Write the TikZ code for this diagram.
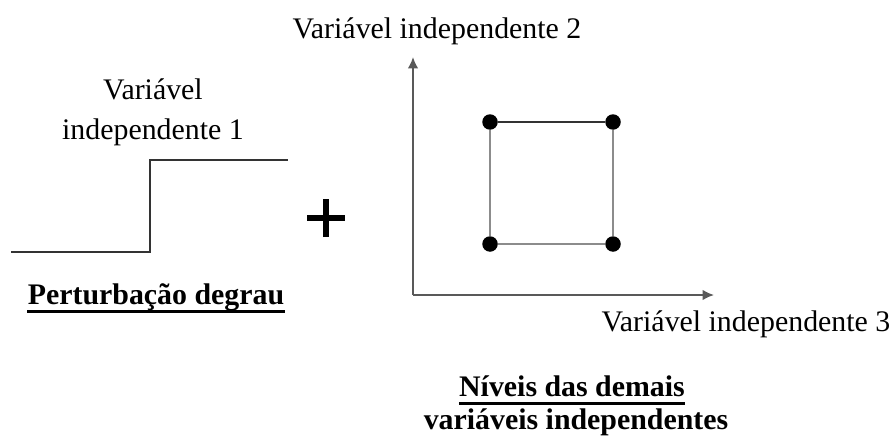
\documentclass[tikz,border=0pt]{standalone}
\usepackage{fontspec}
\setmainfont{Liberation Serif}
\usetikzlibrary{arrows.meta}

\begin{document}
\begin{tikzpicture}[x=0.02cm, y=-0.02cm,
    rotulo/.style={inner sep=0pt, align=center, font=\fontsize{17}{23}\selectfont},
    titulo/.style={inner sep=0pt, font=\fontsize{17}{23}\selectfont\bfseries},
    degrau/.style={line width=1.2pt, black!80},
    eixo/.style={line width=1pt, black!65, -{Latex[length=6.5pt, width=6pt]}},
    ponto/.style={circle, fill=black, inner sep=0pt, minimum size=0.31cm},
    lado/.style={line width=1pt, black!45}]
    \useasboundingbox (0,0) rectangle (895,436);

    % Perturbação degrau (variável 1)
    \coordinate (D0) at (11,252);
    \coordinate (D1) at (150,252);
    \coordinate (D2) at (150,160);
    \coordinate (D3) at (288,160);
    \draw[degrau] (D0) -- (D1) -- (D2) -- (D3);
    \node[rotulo] (var1) at (153,112) {Variável\\independente 1};
    \node[titulo] (pert) at (156,297) {Perturbação degrau};
    \draw[line width=1.6pt] ([yshift=-4pt]pert.base west) -- ([yshift=-4pt]pert.base east);

    % Sinal de soma
    \coordinate (mais) at (326,218);
    \draw[line width=3.6pt] ([xshift=-0.38cm]mais) -- ([xshift=0.38cm]mais);
    \draw[line width=3.6pt] ([yshift=-0.38cm]mais) -- ([yshift=0.38cm]mais);

    % Eixos das variáveis 2 e 3
    \coordinate (O) at (413,295);
    \coordinate (Y) at (413,57);
    \coordinate (X) at (714,295);
    \draw[eixo] (O) -- (Y);
    \draw[eixo] (O) -- (X);
    \node[rotulo] (var2) at (437,31) {Variável independente 2};
    \node[rotulo] (var3) at (746,324) {Variável independente 3};

    % Níveis (planejamento 2x2)
    \node[ponto] (A) at (490,122) {};
    \node[ponto] (B) at (613,122) {};
    \node[ponto] (C) at (613,244) {};
    \node[ponto] (E) at (490,244) {};
    \draw[lado, black!80] (A) -- (B);
    \draw[lado] (B) -- (C);
    \draw[lado] (C) -- (E);
    \draw[lado] (E) -- (A);

    % Legenda dos níveis
    \node[titulo] (niveis) at (572,386) {Níveis das demais};
    \draw[line width=1.6pt] ([yshift=-4pt]niveis.base west) -- ([yshift=-4pt]niveis.base east);
    \node[titulo] (demais) at (576,422) {variáveis independentes};
\end{tikzpicture}
\end{document}
